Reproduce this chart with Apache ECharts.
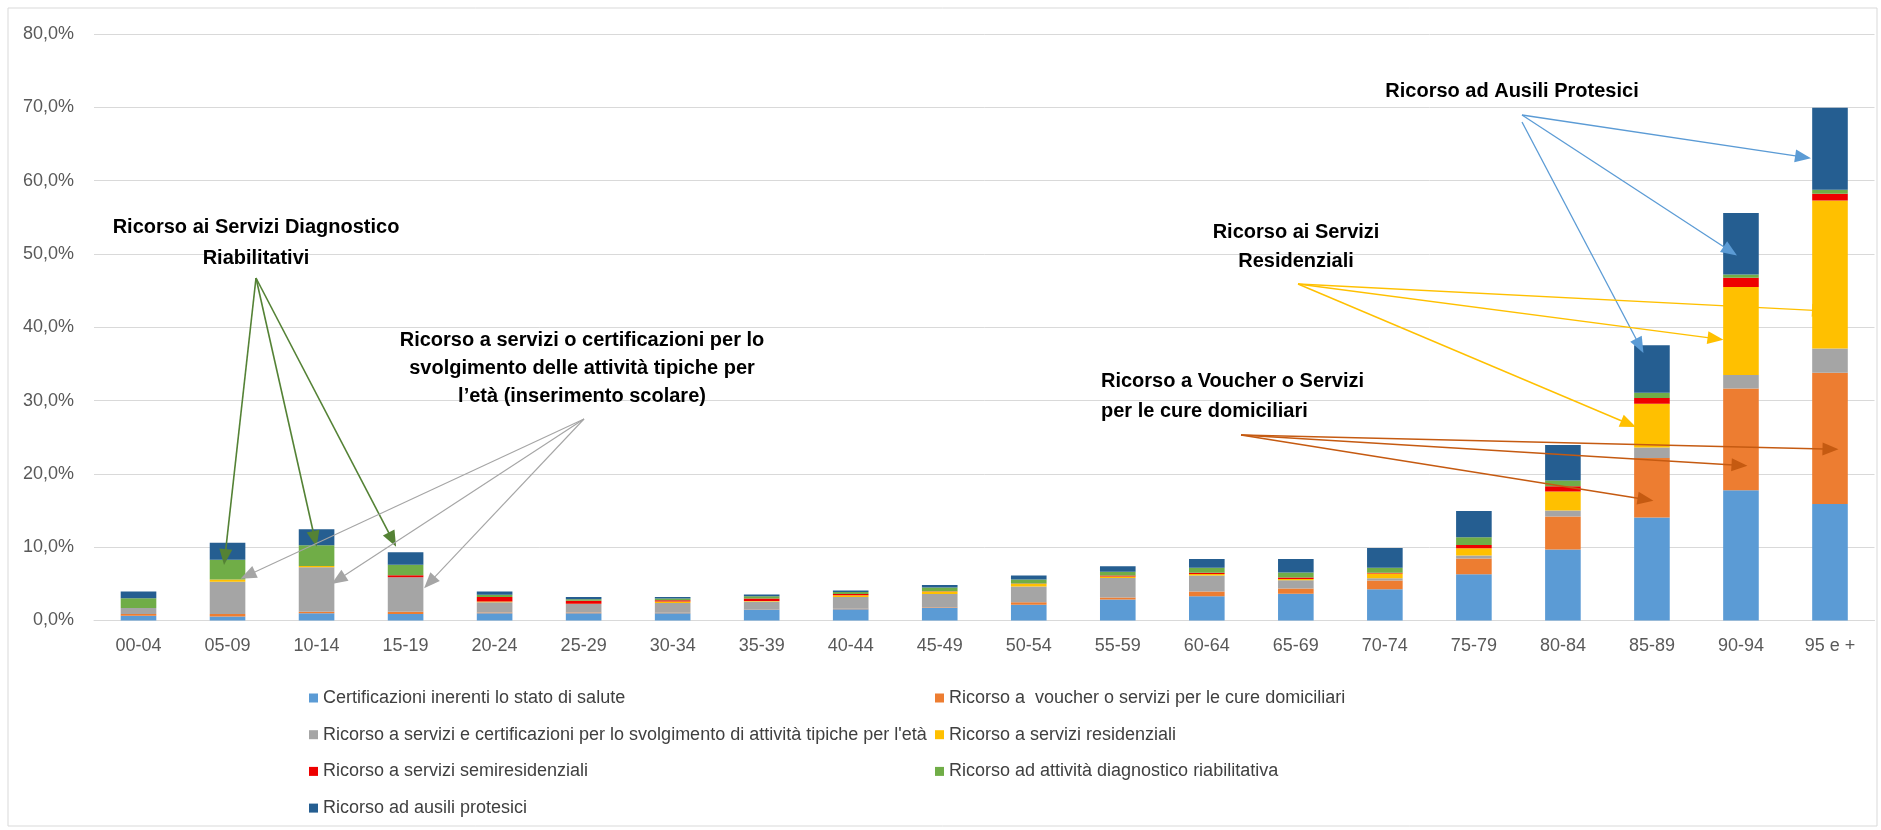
<!DOCTYPE html>
<html><head><meta charset="utf-8">
<script src="https://cdn.jsdelivr.net/npm/echarts@6/dist/echarts.min.js"></script>
<style>html,body{margin:0;padding:0;background:#fff}#c{width:1881px;height:830px}</style>
</head><body><div id="c"></div>
<script>
// ---------- DATA ----------
const categories = ['00-04','05-09','10-14','15-19','20-24','25-29','30-34','35-39','40-44','45-49',
                    '50-54','55-59','60-64','65-69','70-74','75-79','80-84','85-89','90-94','95 e +'];
const seriesNames = [
  'Certificazioni inerenti lo stato di salute',
  'Ricorso a  voucher o servizi per le cure domiciliari',
  "Ricorso a servizi e certificazioni per lo svolgimento di attività tipiche per l'età",
  'Ricorso a servizi residenziali',
  'Ricorso a servizi semiresidenziali',
  'Ricorso ad attività diagnostico riabilitativa',
  'Ricorso ad ausili protesici'
];
const certificazioni   = [0.65,0.55,1.00,0.90,1.00,1.00,1.00,1.50,1.55,1.75,2.15,2.85,3.30,3.65,4.25,6.30,9.70,14.05,17.75,15.90];
const voucher          = [0.25,0.35,0.20,0.30,0.10,0.10,0.05,0.05,0.05,0.05,0.35,0.30,0.65,0.70,1.20,2.15,4.50,8.10,13.90,17.90];
const attivitaEta      = [0.80,4.40,6.05,4.70,1.40,1.15,1.35,1.05,1.60,1.80,2.15,2.65,2.20,1.15,0.30,0.40,0.80,1.45,1.85,3.30];
const residenziali     = [0.00,0.30,0.20,0.00,0.10,0.05,0.20,0.05,0.25,0.35,0.35,0.20,0.20,0.15,0.65,1.00,2.60,5.95,12.00,20.20];
const semiresidenziali = [0.00,0.00,0.00,0.27,0.60,0.40,0.15,0.35,0.15,0.05,0.05,0.15,0.15,0.20,0.10,0.45,0.70,0.80,1.25,0.90];
const diagnostico      = [1.35,2.70,2.80,1.45,0.30,0.20,0.25,0.30,0.30,0.50,0.55,0.50,0.70,0.70,0.70,1.05,0.80,0.70,0.45,0.55];
const ausili           = [0.90,2.30,2.20,1.70,0.45,0.30,0.20,0.25,0.20,0.35,0.55,0.75,1.20,1.85,2.70,3.60,4.85,6.50,8.40,11.20];
const seriesValues = [certificazioni, voucher, attivitaEta, residenziali, semiresidenziali, diagnostico, ausili];
const yMin = 0, yMax = 80, yStep = 10;

// ---------- STYLE ----------
const colors = ['#5b9bd5','#ed7d31','#a5a5a5','#ffc000','#ee0000','#70ad47','#255e91'];
const FONT = "'Liberation Sans', Arial, sans-serif";

// annotation texts (pixel layout)
const annotationTexts = [
  {text:'Ricorso ai Servizi Diagnostico', x:256, y:227, align:'center'},
  {text:'Riabilitativi', x:256, y:258, align:'center'},
  {text:'Ricorso a servizi o certificazioni per lo', x:582, y:340, align:'center'},
  {text:'svolgimento delle attività tipiche per', x:582, y:368, align:'center'},
  {text:'l’età (inserimento scolare)', x:582, y:396, align:'center'},
  {text:'Ricorso ad Ausili Protesici', x:1512, y:91, align:'center'},
  {text:'Ricorso ai Servizi', x:1296, y:232, align:'center'},
  {text:'Residenziali', x:1296, y:261, align:'center'},
  {text:'Ricorso a Voucher o Servizi', x:1101, y:381, align:'left'},
  {text:'per le cure domiciliari', x:1101, y:411, align:'left'}
];
// arrows: tail in pixels, head at a category / value point (+ small pixel shift)
const arrows = [
  {color:'#548235', w:1.6, tail:[256,278], cat:'05-09', val:7.57, dx:-3.5},
  {color:'#548235', w:1.6, tail:[256,278], cat:'10-14', val:10.07, dx:0},
  {color:'#548235', w:1.6, tail:[256,278], cat:'15-19', val:10.07, dx:-9.5},
  {color:'#a5a5a5', w:1.1, tail:[584,419], cat:'05-09', val:5.7, dx:13},
  {color:'#a5a5a5', w:1.1, tail:[584,419], cat:'10-14', val:4.98, dx:15},
  {color:'#a5a5a5', w:1.1, tail:[584,419], cat:'15-19', val:4.4, dx:18.5},
  {color:'#5b9bd5', w:1.3, tail:[1522,115], cat:'95 e +', val:63.05, dx:-19},
  {color:'#5b9bd5', w:1.3, tail:[1522,115], cat:'90-94', val:49.8, dx:-4},
  {color:'#5b9bd5', w:1.3, tail:[1522,122], cat:'85-89', val:36.5, dx:-8.5},
  {color:'#ffc000', w:1.4, tail:[1298,284], cat:'85-89', val:26.4, dx:-16},
  {color:'#ffc000', w:1.4, tail:[1298,284], cat:'90-94', val:38.3, dx:-17.5},
  {color:'#ffc000', w:1.4, tail:[1298,284], cat:'95 e +', val:42.2, dx:-2},
  {color:'#c55a11', w:1.5, tail:[1241,435], cat:'85-89', val:16.35, dx:1.5},
  {color:'#c55a11', w:1.5, tail:[1241,435], cat:'90-94', val:21.1, dx:6.5},
  {color:'#c55a11', w:1.5, tail:[1241,435], cat:'95 e +', val:23.35, dx:8.5}
];

const chart = echarts.init(document.getElementById('c'), null, {renderer:'canvas'});
const legendText = {fontSize:18, color:'#404040', fontFamily:FONT, lineHeight:18};
chart.setOption({
  animation:false,
  backgroundColor:'#fff',
  textStyle:{fontFamily:FONT},
  grid:{left:94, right:6.5, top:34, bottom:209.5, containLabel:false},
  xAxis:{type:'category', data:categories,
    axisLine:{lineStyle:{color:'#d9d9d9', width:1}}, axisTick:{show:false},
    axisLabel:{interval:0, color:'#595959', fontSize:18, fontFamily:FONT, margin:17}},
  yAxis:{type:'value', min:yMin, max:yMax, interval:yStep,
    axisLine:{show:false}, axisTick:{show:false},
    splitLine:{lineStyle:{color:'#d9d9d9', width:1}},
    axisLabel:{color:'#595959', fontSize:18, fontFamily:FONT, margin:20,
      formatter:v=>v.toFixed(1).replace('.',',')+'%'}},
  legend:[
    {data:[seriesNames[0],seriesNames[2],seriesNames[4],seriesNames[6]], orient:'vertical',
     left:304, top:684, itemWidth:9, itemHeight:9, itemGap:18.7, icon:'rect', selectedMode:false, textStyle:legendText},
    {data:[seriesNames[1],seriesNames[3],seriesNames[5]], orient:'vertical',
     left:930, top:684, itemWidth:9, itemHeight:9, itemGap:18.7, icon:'rect', selectedMode:false, textStyle:legendText}
  ],
  series: seriesNames.map((n,i)=>({
    name:n, type:'bar', stack:'tot', data:seriesValues[i], barWidth:'40%',
    itemStyle:{color:colors[i]}, emphasis:{disabled:true}
  }))
});

// ---------- annotations ----------
const els = [{type:'rect', z:0, shape:{x:8, y:8, width:1869, height:818},
  style:{fill:null, stroke:'#d9d9d9', lineWidth:1}, silent:true}];
arrows.forEach(a=>{
  const idx = categories.indexOf(a.cat);
  const p = chart.convertToPixel({gridIndex:0}, [idx, a.val]);
  const hx = p[0] + a.dx, hy = p[1];
  const tx = a.tail[0], ty = a.tail[1];
  const L = Math.hypot(hx-tx, hy-ty), ux = (hx-tx)/L, uy = (hy-ty)/L;
  const hl = 16, hw = 13;
  const bx = hx - ux*hl, by = hy - uy*hl, px = -uy, py = ux;
  els.push({type:'line', z:100, silent:true, shape:{x1:tx,y1:ty,x2:bx+ux*2,y2:by+uy*2},
    style:{stroke:a.color, lineWidth:a.w}});
  els.push({type:'polygon', z:100, silent:true,
    shape:{points:[[hx,hy],[bx+px*hw/2,by+py*hw/2],[bx-px*hw/2,by-py*hw/2]]},
    style:{fill:a.color}});
});
annotationTexts.forEach(t=>{
  els.push({type:'text', z:101, silent:true, x:t.x, y:t.y,
    style:{text:t.text, fill:'#000', font:"bold 20px "+FONT, textAlign:t.align, textVerticalAlign:'middle'}});
});
chart.setOption({graphic:{elements:els}});
</script></body></html>
